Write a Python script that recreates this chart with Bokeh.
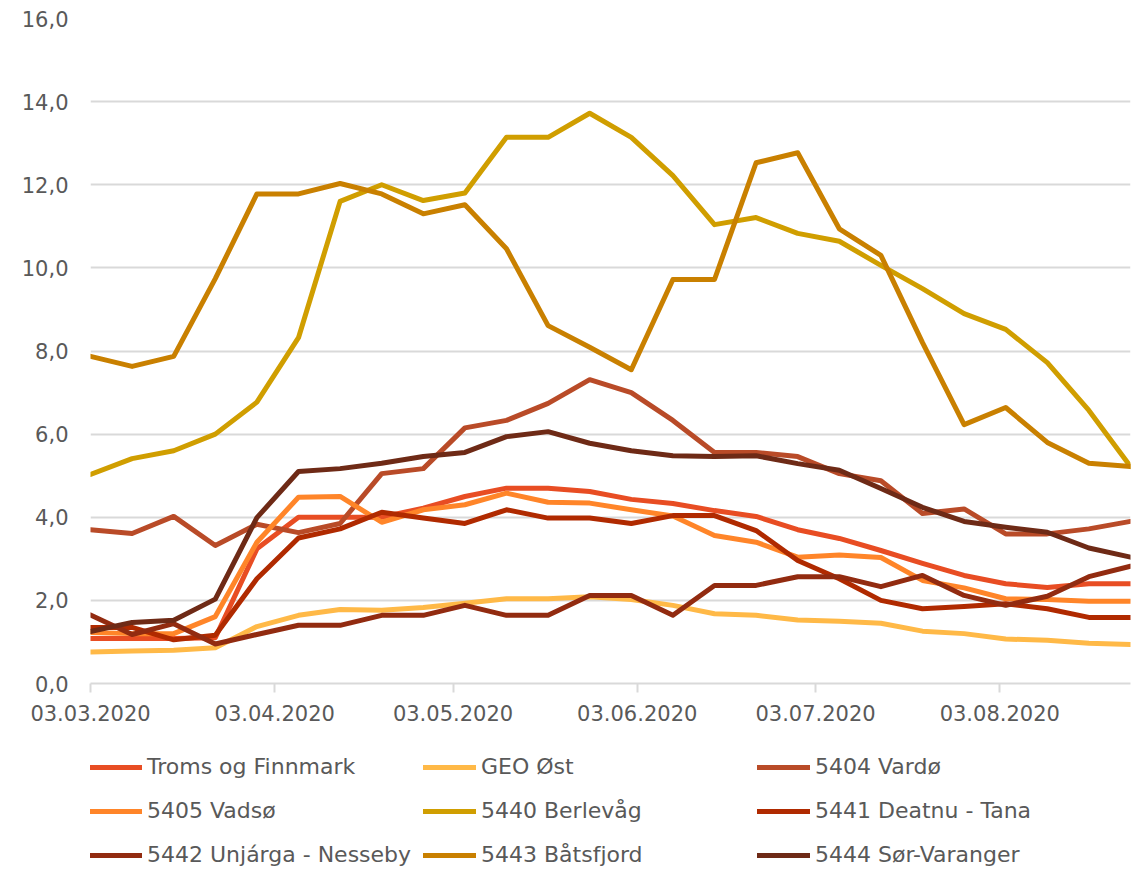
from datetime import datetime
from bokeh.plotting import figure
from bokeh.layouts import column
from bokeh.models import Range1d, FixedTicker, DatetimeTickFormatter, Legend, LegendItem
from bokeh.embed import file_html
from bokeh.resources import INLINE

dates = ["2020-03-03", "2020-03-10", "2020-03-17", "2020-03-24", "2020-03-31", "2020-04-07",
         "2020-04-14", "2020-04-21", "2020-04-28", "2020-05-05", "2020-05-12", "2020-05-19",
         "2020-05-26", "2020-06-02", "2020-06-09", "2020-06-16", "2020-06-23", "2020-06-30",
         "2020-07-07", "2020-07-14", "2020-07-21", "2020-07-28", "2020-08-04", "2020-08-11",
         "2020-08-18", "2020-08-25"]
tick_dates = ["2020-03-03", "2020-04-03", "2020-05-03", "2020-06-03", "2020-07-03", "2020-08-03"]

troms = [1.08, 1.08, 1.08, 1.10, 3.24, 4.00, 4.00, 4.00, 4.22, 4.50, 4.70, 4.70, 4.62, 4.43, 4.33, 4.16,
         4.02, 3.70, 3.49, 3.20, 2.89, 2.60, 2.40, 2.31, 2.40, 2.40]
geo = [0.76, 0.78, 0.80, 0.86, 1.37, 1.64, 1.78, 1.76, 1.83, 1.93, 2.04, 2.04, 2.09, 2.02, 1.88, 1.68,
       1.64, 1.53, 1.50, 1.45, 1.26, 1.20, 1.07, 1.04, 0.97, 0.94]
vardo = [3.70, 3.61, 4.02, 3.32, 3.83, 3.63, 3.85, 5.05, 5.17, 6.15, 6.33, 6.74, 7.31, 7.00, 6.33, 5.56,
         5.56, 5.46, 5.05, 4.88, 4.09, 4.20, 3.60, 3.60, 3.72, 3.90]
vadso = [1.23, 1.20, 1.20, 1.61, 3.40, 4.48, 4.50, 3.88, 4.18, 4.30, 4.58, 4.36, 4.34, 4.18, 4.03, 3.56,
         3.40, 3.04, 3.09, 3.03, 2.48, 2.30, 2.04, 2.02, 1.98, 1.98]
berlevag = [5.03, 5.41, 5.60, 6.00, 6.77, 8.32, 11.60, 12.00, 11.62, 11.80, 13.14, 13.14, 13.72, 13.14,
            12.22, 11.04, 11.21, 10.83, 10.64, 10.06, 9.50, 8.90, 8.52, 7.72, 6.57, 5.22]
deatnu = [1.35, 1.35, 1.05, 1.16, 2.52, 3.50, 3.72, 4.12, 3.98, 3.85, 4.18, 3.98, 3.98, 3.85, 4.04, 4.04,
          3.68, 2.96, 2.52, 2.00, 1.80, 1.85, 1.92, 1.80, 1.59, 1.59]
unjarga = [1.65, 1.18, 1.44, 0.95, 1.18, 1.40, 1.40, 1.64, 1.64, 1.88, 1.64, 1.64, 2.12, 2.12, 1.64, 2.36,
           2.36, 2.57, 2.57, 2.33, 2.60, 2.12, 1.88, 2.10, 2.57, 2.82]
batsfjord = [7.87, 7.63, 7.87, 9.74, 11.78, 11.78, 12.03, 11.78, 11.30, 11.52, 10.46, 8.61, 8.09, 7.55,
             9.72, 9.72, 12.53, 12.77, 10.94, 10.30, 8.20, 6.23, 6.64, 5.80, 5.30, 5.22]
sorvar = [1.25, 1.47, 1.52, 2.03, 3.99, 5.10, 5.17, 5.30, 5.46, 5.56, 5.94, 6.06, 5.78, 5.60, 5.48, 5.46,
          5.48, 5.29, 5.13, 4.69, 4.24, 3.90, 3.76, 3.64, 3.26, 3.04]

names = ["Troms og Finnmark", "GEO Øst", "5404 Vardø", "5405 Vadsø", "5440 Berlevåg",
         "5441 Deatnu - Tana", "5442 Unjárga - Nesseby", "5443 Båtsfjord", "5444 Sør-Varanger"]
series = [troms, geo, vardo, vadso, berlevag, deatnu, unjarga, batsfjord, sorvar]
colors = ["#E84D23", "#FFB947", "#B94B28", "#FF8529", "#D09E00", "#B02A00", "#922B10", "#C98000", "#6E2A16"]

FONT = "DejaVu Sans"
TXT = "#595959"
GRID = "#D9D9D9"
LW = 5

x = [datetime.strptime(d, "%Y-%m-%d") for d in dates]
ticks = [datetime.strptime(d, "%Y-%m-%d").timestamp() * 1000 for d in tick_dates]

p = figure(width=1132, height=745, x_axis_type="datetime", output_backend="svg",
           toolbar_location=None, x_range=Range1d(x[0], x[-1]), y_range=Range1d(0, 16),
           min_border_left=90, min_border_right=2, min_border_top=18, min_border_bottom=62)
p.outline_line_color = None
p.background_fill_color = "white"
p.border_fill_color = "white"

p.xgrid.grid_line_color = None
p.ygrid.grid_line_color = GRID
p.ygrid.grid_line_width = 2
yt = [0, 2, 4, 6, 8, 10, 12, 14, 16]
p.yaxis.ticker = FixedTicker(ticks=yt)
p.yaxis.major_label_overrides = {v: f"{v:.1f}".replace(".", ",") for v in yt}
p.yaxis.axis_line_color = None
p.yaxis.major_tick_line_color = None
p.yaxis.minor_tick_line_color = None
p.yaxis.major_tick_out = 0
p.yaxis.major_tick_in = 0
p.yaxis.major_label_standoff = 22

p.xaxis.ticker = FixedTicker(ticks=ticks)
p.xaxis.formatter = DatetimeTickFormatter(days="%d.%m.%Y", months="%d.%m.%Y")
p.xaxis.axis_line_color = GRID
p.xaxis.axis_line_width = 2
p.xaxis.major_tick_line_color = GRID
p.xaxis.major_tick_line_width = 2
p.xaxis.major_tick_out = 9
p.xaxis.major_tick_in = 0
p.xaxis.minor_tick_line_color = None
p.xaxis.major_label_standoff = 12

for ax in (p.xaxis, p.yaxis):
    ax.major_label_text_font = FONT
    ax.major_label_text_font_size = "21px"
    ax.major_label_text_color = TXT

for name, vals, col in zip(names, series, colors):
    p.line(x, vals, line_color=col, line_width=LW, line_join="round", line_cap="round")

# legend panel: an axis-less figure below the chart; its lines fall outside its ranges
lg = figure(width=1132, height=122, output_backend="svg", toolbar_location=None,
            x_range=Range1d(0, 1), y_range=Range1d(0, 1),
            min_border_left=90, min_border_right=2, min_border_top=0, min_border_bottom=0)
lg.axis.visible = False
lg.grid.visible = False
lg.outline_line_color = None
lg.border_fill_color = "white"

rends = []
for vals, col in zip(series, colors):
    rends.append(lg.line(x, vals, line_color=col, line_width=LW, line_cap="round"))

col_x = [-1, 333, 667]
for c in range(3):
    its = [LegendItem(label=names[c + 3 * r], renderers=[rends[c + 3 * r]]) for r in range(3)]
    leg = Legend(items=its, location=(col_x[c], 0), orientation="vertical",
                 label_text_font=FONT, label_text_font_size="22px", label_text_color=TXT,
                 glyph_width=53, glyph_height=22, label_height=22,
                 label_standoff=5, spacing=19, padding=0, margin=0,
                 border_line_color=None, background_fill_alpha=0)
    lg.add_layout(leg)

layout = column(p, lg, spacing=0)
open("out.html", "w").write(file_html(layout, INLINE))
